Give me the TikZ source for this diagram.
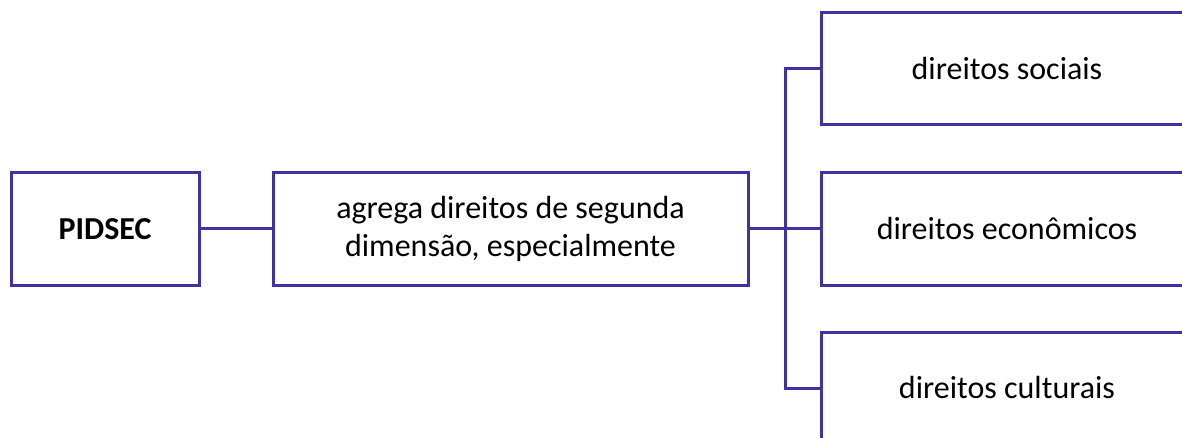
\documentclass[tikz,border=0pt]{standalone}
\usepackage{fontspec}
\setmainfont{Carlito}
\definecolor{mapline}{RGB}{64,50,162}
\begin{document}
\begin{tikzpicture}[x=1pt, y=-1pt,
  box/.style={draw=mapline, line width=3pt, rectangle, inner sep=0pt, align=center,
    font=\fontsize{32}{38}\selectfont},
  link/.style={draw=mapline, line width=3pt}]
\useasboundingbox (0,0) rectangle (1182,438);
\clip (0,0) rectangle (1182,438);
\node[box, minimum width=188pt, minimum height=112pt, font=\fontsize{32}{38}\selectfont\bfseries] (pidsec) at (105,229){PIDSEC};
\node[box, minimum width=475pt, minimum height=112pt] (agrega) at (510.5,229){agrega direitos de segunda\\dimensão, especialmente};
\node[box, minimum width=372pt, minimum height=112pt] (sociais) at (1007,69){direitos sociais};
\node[box, minimum width=372pt, minimum height=112pt] (economicos) at (1007,229){direitos econômicos};
\node[box, minimum width=372pt, minimum height=112pt] (culturais) at (1007,388){direitos culturais};
\coordinate (hub) at (785,229);
\draw[link](pidsec) -- (agrega);
\draw[link](agrega.east) -- (hub);
\draw[link](hub) |- (sociais.west);
\draw[link](hub) -- (economicos.west);
\draw[link](hub) |- (culturais.west);
\end{tikzpicture}
\end{document}
